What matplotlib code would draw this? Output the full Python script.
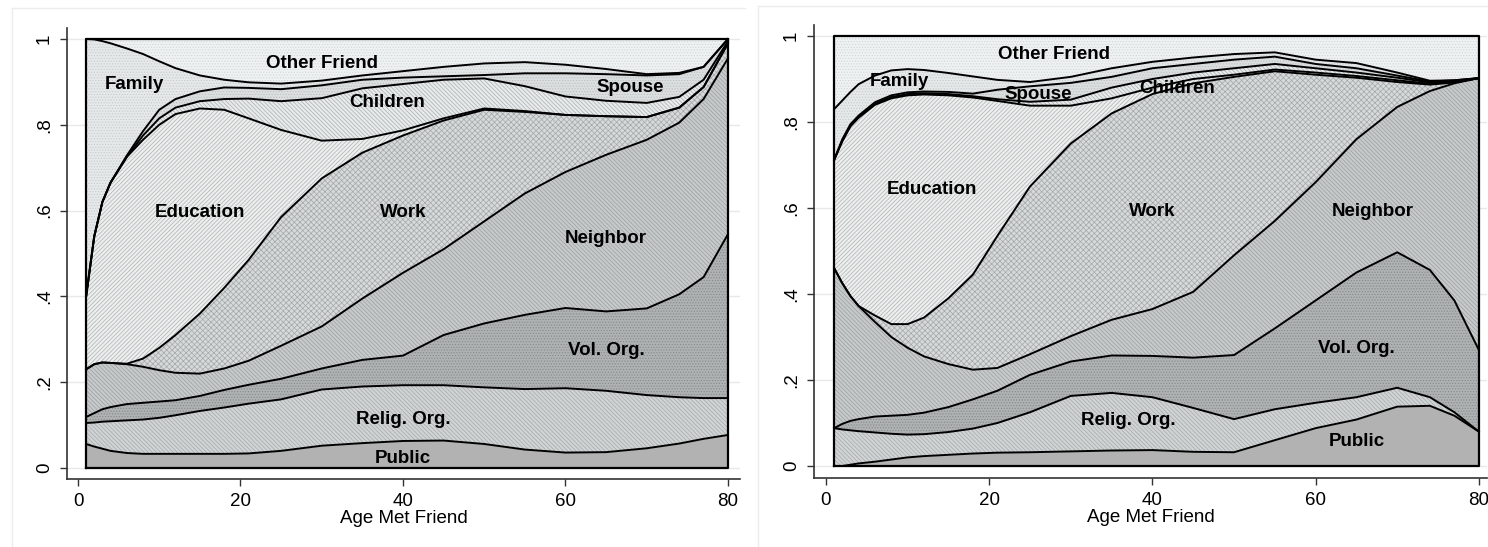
import matplotlib
matplotlib.use("Agg")
import matplotlib.pyplot as plt
from matplotlib.lines import Line2D
import numpy as np

plt.rcParams['font.family'] = ['Liberation Sans', 'DejaVu Sans']
plt.rcParams['hatch.linewidth'] = 0.5

# ages at which the boundaries were read
age = [1, 2, 3, 4, 6, 8, 10, 12, 15, 18, 21, 25, 30, 35, 40, 45, 50, 55, 60, 65, 70, 74, 77, 80]

categories = ['Public', 'Relig. Org.', 'Vol. Org.', 'Neighbor', 'Work',
              'Education', 'Children', 'Spouse', 'Family', 'Other Friend']

# left chart: cumulative share (upper edge of each category)
l_public = [0.056, 0.050, 0.045, 0.040, 0.035, 0.033, 0.033, 0.033, 0.033, 0.033, 0.034, 0.040,
            0.052, 0.058, 0.063, 0.064, 0.056, 0.043, 0.036, 0.037, 0.046, 0.057, 0.068, 0.077]
l_relig = [0.105, 0.106, 0.108, 0.109, 0.111, 0.113, 0.117, 0.123, 0.133, 0.141, 0.150, 0.160,
           0.183, 0.190, 0.193, 0.193, 0.188, 0.184, 0.186, 0.180, 0.170, 0.165, 0.163, 0.163]
l_vol = [0.119, 0.128, 0.137, 0.142, 0.149, 0.152, 0.155, 0.158, 0.168, 0.182, 0.194, 0.208,
         0.232, 0.252, 0.262, 0.310, 0.337, 0.357, 0.373, 0.365, 0.372, 0.405, 0.445, 0.545]
l_neighbor = [0.230, 0.242, 0.246, 0.245, 0.242, 0.236, 0.228, 0.222, 0.220, 0.232, 0.250, 0.285,
              0.330, 0.395, 0.455, 0.510, 0.575, 0.640, 0.690, 0.730, 0.765, 0.805, 0.860, 0.955]
l_work = [0.230, 0.242, 0.246, 0.245, 0.243, 0.255, 0.280, 0.310, 0.360, 0.420, 0.485, 0.585,
          0.675, 0.735, 0.775, 0.810, 0.835, 0.830, 0.823, 0.820, 0.818, 0.840, 0.888, 0.990]
l_education = [0.400, 0.540, 0.620, 0.665, 0.725, 0.765, 0.800, 0.825, 0.838, 0.835, 0.815, 0.788,
               0.763, 0.767, 0.787, 0.815, 0.838, 0.832, 0.823, 0.820, 0.818, 0.840, 0.888, 0.990]
l_children = [0.400, 0.540, 0.620, 0.665, 0.725, 0.775, 0.815, 0.840, 0.855, 0.860, 0.861, 0.855,
              0.862, 0.885, 0.895, 0.905, 0.908, 0.890, 0.866, 0.856, 0.851, 0.865, 0.905, 0.995]
l_spouse = [0.400, 0.540, 0.620, 0.665, 0.728, 0.785, 0.835, 0.860, 0.878, 0.887, 0.886, 0.883,
            0.892, 0.905, 0.910, 0.913, 0.916, 0.920, 0.920, 0.918, 0.915, 0.918, 0.935, 1.000]
l_family = [1.000, 0.999, 0.995, 0.990, 0.978, 0.965, 0.948, 0.932, 0.915, 0.905, 0.899, 0.896,
            0.903, 0.915, 0.925, 0.935, 0.943, 0.946, 0.940, 0.930, 0.918, 0.921, 0.935, 1.000]

# right chart
r_public = [0.000, 0.000, 0.003, 0.006, 0.010, 0.015, 0.020, 0.023, 0.026, 0.029, 0.031, 0.032,
            0.034, 0.036, 0.037, 0.033, 0.032, 0.060, 0.088, 0.108, 0.138, 0.140, 0.117, 0.080]
r_relig = [0.088, 0.085, 0.083, 0.081, 0.078, 0.075, 0.073, 0.074, 0.079, 0.087, 0.100, 0.125,
           0.163, 0.170, 0.160, 0.135, 0.109, 0.132, 0.147, 0.160, 0.182, 0.160, 0.125, 0.080]
r_vol = [0.088, 0.098, 0.105, 0.109, 0.115, 0.117, 0.119, 0.124, 0.137, 0.155, 0.175, 0.212,
         0.243, 0.257, 0.256, 0.252, 0.258, 0.320, 0.385, 0.450, 0.497, 0.456, 0.385, 0.270]
r_neighbor = [0.460, 0.425, 0.395, 0.372, 0.335, 0.300, 0.275, 0.255, 0.237, 0.224, 0.228, 0.260,
              0.302, 0.340, 0.365, 0.405, 0.490, 0.570, 0.660, 0.760, 0.835, 0.872, 0.890, 0.902]
r_work = [0.460, 0.425, 0.395, 0.372, 0.350, 0.330, 0.330, 0.345, 0.390, 0.445, 0.535, 0.650,
          0.750, 0.820, 0.865, 0.890, 0.905, 0.918, 0.910, 0.903, 0.893, 0.887, 0.892, 0.902]
r_education = [0.712, 0.755, 0.790, 0.810, 0.840, 0.855, 0.862, 0.864, 0.862, 0.857, 0.849, 0.838,
               0.838, 0.855, 0.880, 0.900, 0.910, 0.922, 0.915, 0.907, 0.897, 0.889, 0.893, 0.902]
r_children = [0.712, 0.757, 0.792, 0.812, 0.842, 0.858, 0.865, 0.867, 0.865, 0.860, 0.853, 0.847,
              0.852, 0.880, 0.900, 0.915, 0.925, 0.935, 0.925, 0.915, 0.903, 0.892, 0.895, 0.902]
r_spouse = [0.712, 0.760, 0.795, 0.815, 0.846, 0.862, 0.869, 0.871, 0.870, 0.866, 0.875, 0.883,
            0.891, 0.905, 0.925, 0.935, 0.945, 0.952, 0.935, 0.925, 0.908, 0.894, 0.897, 0.902]
r_family = [0.830, 0.850, 0.870, 0.888, 0.908, 0.920, 0.923, 0.921, 0.914, 0.906, 0.898, 0.893,
            0.905, 0.925, 0.940, 0.950, 0.958, 0.962, 0.945, 0.937, 0.915, 0.896, 0.897, 0.902]

yticks = [0, 0.2, 0.4, 0.6, 0.8, 1]
ytick_labels = ['0', '.2', '.4', '.6', '.8', '1']
xticks = [0, 20, 40, 60, 80]

# fill style per category: face colour, hatch colour, hatch
styles = [
    ('#b2b2b2', '#b2b2b2', None),
    ('#d0d4d4', '#a6aaaa', '\\' * 8),
    ('#aeb2b2', '#868a8a', '......'),
    ('#c6caca', '#9ca0a0', '\\' * 8),
    ('#d6dada', '#a4a8a8', 'xxxxxx'),
    ('#edefef', '#aeb2b2', '/' * 8),
    ('#e8ebeb', '#aaaeae', '\\' * 8),
    ('#dcdfdf', '#bcc0c0', '......'),
    ('#e6e9e9', '#c6caca', '......'),
    ('#eff2f2', '#d2d6d6', '......'),
]

left_labels = [('Public', 40, 0.023), ('Relig. Org.', 40, 0.114), ('Vol. Org.', 65, 0.275),
               ('Neighbor', 65, 0.536), ('Work', 40, 0.595), ('Education', 15, 0.595),
               ('Children', 38, 0.851), ('Spouse', 68, 0.886), ('Family', 7, 0.895),
               ('Other Friend', 30, 0.944)]
right_labels = [('Public', 65, 0.056), ('Relig. Org.', 37, 0.105), ('Vol. Org.', 65, 0.274),
                ('Neighbor', 67, 0.593), ('Work', 40, 0.593), ('Education', 13, 0.644),
                ('Children', 43, 0.879), ('Spouse', 26, 0.865), ('Family', 9, 0.895),
                ('Other Friend', 28, 0.956)]

fig = plt.figure(figsize=(14.88, 5.47), dpi=100)

# faint graph-region borders
for x0, x1, y0 in [(12, 745, 8), (758, 1488, 6)]:
    fig.add_artist(Line2D([x0 / 1488, x1 / 1488], [1 - y0 / 547, 1 - y0 / 547],
                          color='#ececec', lw=1))
    fig.add_artist(Line2D([x0 / 1488, x0 / 1488], [0, 1 - y0 / 547], color='#ececec', lw=1))


def draw(ax, tops, labels, xlim, ylim):
    x = np.array(age)
    edges = [np.zeros(len(x))] + [np.array(t) for t in tops] + [np.ones(len(x))]
    for k in range(1, len(edges)):
        edges[k] = np.maximum(edges[k], edges[k - 1])
    for k, (fc, hc, hatch) in enumerate(styles):
        ax.fill_between(x, edges[k], edges[k + 1], facecolor=fc, edgecolor=hc,
                        hatch=hatch, linewidth=0, zorder=2)
    for e in edges[1:-1]:
        ax.plot(x, e, color='black', lw=1.4, zorder=3)
    ax.plot([1, 80, 80, 1, 1], [0, 0, 1, 1, 0], color='black', lw=1.6, zorder=4)
    for txt, lx, ly in labels:
        ax.text(lx, ly, txt, ha='center', va='center', fontsize=13.5,
                fontweight='bold', zorder=5)
    ax.set_xlim(*xlim)
    ax.set_ylim(*ylim)
    ax.set_yticks(yticks)
    ax.set_yticklabels(ytick_labels, rotation=90, va='center')
    ax.set_xticks(xticks)
    ax.tick_params(labelsize=13.5, length=5, width=1, pad=5, color='#333333')
    ax.set_xlabel('Age Met Friend', fontsize=13.5, labelpad=0)
    ax.grid(axis='y', color='#e8e8e8', lw=1, zorder=0)
    ax.set_axisbelow(True)
    for s in ['top', 'right']:
        ax.spines[s].set_visible(False)
    for s in ['left', 'bottom']:
        ax.spines[s].set_color('#333333')
        ax.spines[s].set_linewidth(1.2)
    ax.set_facecolor('white')


ax1 = fig.add_axes([67 / 1488, 68 / 547, 673 / 1488, 451 / 547])
draw(ax1, [l_public, l_relig, l_vol, l_neighbor, l_work, l_education, l_children,
           l_spouse, l_family], left_labels, (-1.354, 81.48), (-0.0256, 1.0256))

ax2 = fig.add_axes([814 / 1488, 69 / 547, 673 / 1488, 453 / 547])
draw(ax2, [r_public, r_relig, r_vol, r_neighbor, r_work, r_education, r_children,
           r_spouse, r_family], right_labels, (-1.47, 81.0), (-0.0279, 1.0256))

fig.savefig('out.png', dpi=100)
